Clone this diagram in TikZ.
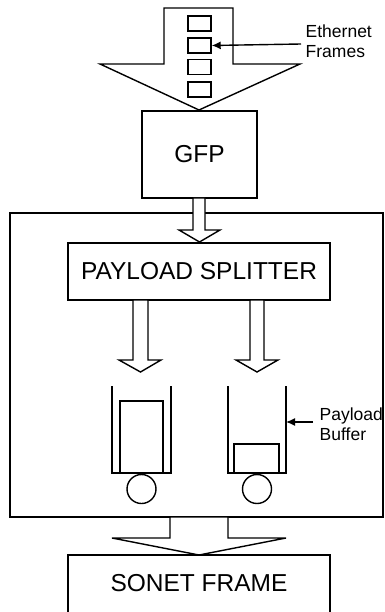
\documentclass[tikz,border=0pt]{standalone}
\usepackage{fontspec}
\setmainfont{Liberation Sans}
\usetikzlibrary{arrows.meta}
\begin{document}
\begin{tikzpicture}[x=1pt,y=-1pt,
  line width=1.4pt, line join=miter,
  blk/.style={draw, line width=1.4pt, inner sep=0pt, font=\fontsize{24.5}{27}\selectfont},
  note/.style={align=left, inner sep=0pt, anchor=west, font=\fontsize{17.5}{19.5}\selectfont},
  frm/.style={draw, line width=1.4pt, minimum width=23pt, minimum height=15pt, inner sep=0pt},
  pointer/.style={-{Latex[length=9pt,width=8pt]}, line width=1.4pt},
  blockarrow/.style={draw, fill=white, line width=1.4pt}]
\useasboundingbox (0,0) rectangle (384,612);

% outer enclosure
\draw (10,213) rectangle (383,517);

% incoming block arrow carrying ethernet frames
\draw[blockarrow] (164,8) -- (233,8) -- (233,64) -- (300,64) -- (199,110) -- (100,64) -- (164,64) -- cycle;
\node[frm] (f1) at (199.5,23.5) {};
\node[frm] (f2) at (199.5,45.5) {};
\node[frm] (f3) at (199.5,67) {};
\node[frm] (f4) at (199.5,89.5) {};
\node[note] (eth) at (305,41) {Ethernet\\Frames};
\coordinate (ethptr) at (301,44);
\draw[pointer] (ethptr) -- (f2.east);

% GFP
\node[blk, minimum width=115pt, minimum height=87pt] (gfp) at (199.5,154.5) {GFP};

% GFP to splitter
\draw[blockarrow] (193,198) -- (205,198) -- (205,230) -- (220,230) -- (199.5,242) -- (179,230) -- (193,230) -- cycle;

% payload splitter
\node[blk, minimum width=262pt, minimum height=57pt] (split) at (199,271.5) {PAYLOAD SPLITTER};

% splitter outputs
\draw[blockarrow] (133,300) -- (148,300) -- (148,360) -- (161,360) -- (140.5,372) -- (119,360) -- (133,360) -- cycle;
\draw[blockarrow] (250,300) -- (264,300) -- (264,360) -- (278,360) -- (257,372) -- (236,360) -- (250,360) -- cycle;

% left payload buffer
\draw (112,386) -- (112,473) -- (171,473) -- (171,386);
\node[draw, line width=1.4pt, minimum width=43pt, minimum height=72pt, inner sep=0pt] (lfill) at (141.5,437) {};
\node[draw, circle, line width=1.4pt, minimum size=29pt, inner sep=0pt] (lwheel) at (141.5,489) {};

% right payload buffer
\draw (228,386) -- (228,473) -- (286,473) -- (286,386);
\coordinate (rwall) at (286,422);
\node[draw, line width=1.4pt, minimum width=45pt, minimum height=29pt, inner sep=0pt] (rfill) at (256.5,458.5) {};
\node[draw, circle, line width=1.4pt, minimum size=29pt, inner sep=0pt] (rwheel) at (257,489) {};

\node[note] (pb) at (319,424) {Payload\\Buffer};
\coordinate (pbptr) at (313,422);
\draw[pointer] (pbptr) -- (rwall);

% outgoing block arrow
\draw[blockarrow] (170,517) -- (228,517) -- (228,538) -- (286,538) -- (199,555) -- (112,538) -- (170,538) -- cycle;

% SONET frame (open at the bottom edge)
\draw (68,612) -- (68,555) -- (330,555) -- (330,612);
\node[font=\fontsize{24.5}{27}\selectfont, inner sep=0pt] (sonet) at (199,583) {SONET FRAME};
\end{tikzpicture}
\end{document}
